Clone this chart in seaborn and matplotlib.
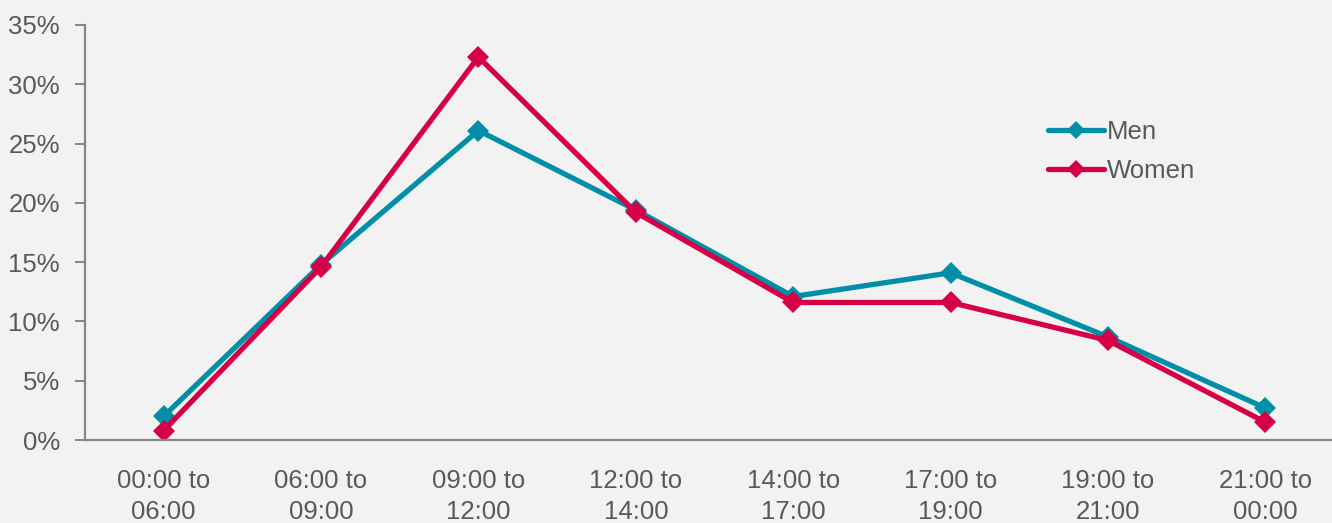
import matplotlib
matplotlib.use("Agg")
import matplotlib.pyplot as plt
import seaborn as sns
import pandas as pd
from matplotlib.ticker import FuncFormatter

categories = ["00:00 to\n06:00", "06:00 to\n09:00", "09:00 to\n12:00", "12:00 to\n14:00",
              "14:00 to\n17:00", "17:00 to\n19:00", "19:00 to\n21:00", "21:00 to\n00:00"]
men = [2.0, 14.8, 26.1, 19.4, 12.1, 14.1, 8.7, 2.7]
women = [0.8, 14.6, 32.3, 19.2, 11.6, 11.6, 8.4, 1.5]
series = ["Men", "Women"]
colors = {"Men": "#008fa6", "Women": "#d50045"}

df = pd.DataFrame({
    "slot": categories * 2,
    "value": men + women,
    "sex": ["Men"] * len(men) + ["Women"] * len(women),
})

sns.set_theme(style="white")
plt.rcParams["font.family"] = ["Liberation Sans", "DejaVu Sans"]

bg = "#f2f2f2"
fs = 18.5
fig = plt.figure(figsize=(13.32, 5.23), dpi=100, facecolor=bg)
ax = fig.add_axes([85 / 1332, 83 / 523, 1259 / 1332, 415 / 523])
ax.set_facecolor(bg)

sns.lineplot(data=df, x="slot", y="value", hue="sex", palette=colors, style="sex",
             markers={"Men": "D", "Women": "D"}, dashes=False, sort=False,
             linewidth=3.8, markersize=11.5, markeredgewidth=0, ax=ax)

ax.set_xlim(-0.5, 7.5)
ax.set_ylim(0, 35)
ax.set_yticks(range(0, 36, 5))
ax.yaxis.set_major_formatter(FuncFormatter(lambda v, p: f"{int(v)}%"))
ax.set_xlabel("")
ax.set_ylabel("")
for s in ["top", "right"]:
    ax.spines[s].set_visible(False)
for s in ["left", "bottom"]:
    ax.spines[s].set_color("#868686")
    ax.spines[s].set_linewidth(1.6)
ax.tick_params(axis="y", which="both", left=True, length=7, width=1.4, color="#868686",
               labelsize=fs, labelcolor="#595959", pad=11)
ax.tick_params(axis="x", bottom=False, labelsize=fs, labelcolor="#595959", pad=15)
for lbl in ax.get_xticklabels():
    lbl.set_linespacing(1.35)

leg = ax.legend(title=None, frameon=False, fontsize=fs, loc="upper left",
                bbox_to_anchor=(1040 / 1332, 1 - 112 / 523), bbox_transform=fig.transFigure,
                handlelength=2.2, handletextpad=0.1, labelspacing=0.6, markerscale=0.8,
                borderaxespad=0, borderpad=0.3)
for t in leg.get_texts():
    t.set_color("#595959")

fig.savefig("out.png", dpi=100, facecolor=bg)
